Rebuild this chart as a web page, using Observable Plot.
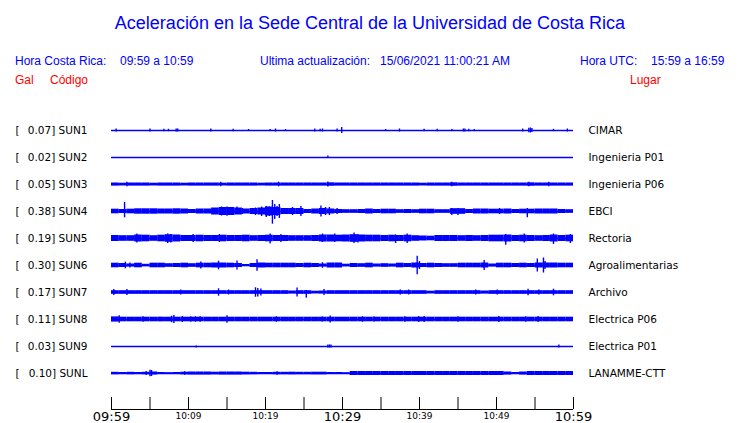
<!DOCTYPE html>
<html>
<head>
<meta charset="utf-8">
<script src="https://cdn.jsdelivr.net/npm/d3@7"></script>
<script src="https://cdn.jsdelivr.net/npm/@observablehq/plot@0.6"></script>
<style>
  html, body { margin: 0; padding: 0; background: #fff; }
  #page { position: relative; width: 740px; height: 423px; overflow: hidden; }
  #head { position: relative; width: 740px; height: 100px; font-family: "Liberation Sans", Arial, sans-serif; }
  #head span { position: absolute; white-space: pre; font-size: 12px; line-height: 12px; color: #0000ff; }
  #head .red { color: #ff0000; }
  #head .title { left: 0; width: 740px; text-align: center; font-size: 18px; line-height: 18px; top: 14px; }
  #chart svg { display: block; }
</style>
</head>
<body>
<div id="page">
  <div id="head">
    <span class="title">Aceleración en la Sede Central de la Universidad de Costa Rica</span>
    <span style="left:15px; top:55px;">Hora Costa Rica:</span>
    <span style="left:120px; top:55px;">09:59 a 10:59</span>
    <span style="left:260px; top:55px;">Ultima actualización:</span>
    <span style="left:380px; top:55px;">15/06/2021 11:00:21 AM</span>
    <span style="left:580px; top:55px;">Hora UTC:</span>
    <span style="left:651px; top:55px;">15:59 a 16:59</span>
    <span class="red" style="left:15px; top:74px;">Gal</span>
    <span class="red" style="left:50px; top:74px;">Código</span>
    <span class="red" style="left:630px; top:74px;">Lugar</span>
  </div>
  <div id="chart"></div>
</div>
<script>
// ---- data ----
const codes  = ["SUN1","SUN2","SUN3","SUN4","SUN5","SUN6","SUN7","SUN8","SUN9","SUNL"];
const gal    = ["0.07","0.02","0.05","0.38","0.19","0.30","0.17","0.11","0.03","0.10"];
const places = ["CIMAR","Ingenieria P01","Ingenieria P06","EBCI","Rectoria","Agroalimentarias","Archivo","Electrica P06","Electrica P01","LANAMME-CTT"];

// per-minute envelope half-heights (minute 0 = 09:59)
const bandSUN3 = [1.5,1.3,1.5,1.5,1.5,1.3,1.5,1.5,1.5,1.3, 1.5,1.5,1.5,1.5,1.3,1.5,1.5,1.5,1.5,1.3, 1.5,1.5,1.5,1.5,1.5,1.5,1.5,1.5,1.7,1.5, 1.5,1.5,1.5,1.5,1.5,1.5,1.5,1.5,1.5,1.5, 1.3,1.5,1.5,1.5,1.7,1.5,1.5,1.5,1.5,1.5, 1.5,1.5,1.5,1.5,1.7,1.5,1.5,1.5,1.5,1.5];
const bandSUN4 = [2.3,2.0,2.3,2.7,2.7,2.7,2.5,2.5,2.7,2.5, 2.0,2.5,2.5,3.5,4.0,4.0,3.5,2.5,3.0,3.5, 4.5,4.0,3.0,3.0,3.0,2.0,2.5,3.0,2.5,2.0, 1.8,1.8,2.0,2.5,2.0,2.3,2.3,1.8,2.0,1.8, 2.3,2.3,1.8,1.8,2.8,2.8,2.0,2.5,2.5,2.3, 2.3,2.5,2.0,2.3,2.3,2.5,2.5,2.5,2.0,1.8];
const bandSUN5 = [3.0,2.8,2.8,3.5,3.3,2.8,3.3,3.8,3.5,3.0, 3.0,3.3,3.0,3.0,3.3,3.0,3.0,3.3,2.8,3.0, 3.3,3.0,3.0,2.8,2.8,2.8,3.0,3.5,3.5,3.3, 3.5,3.8,3.5,3.3,3.3,3.0,3.3,3.0,3.3,2.8, 2.5,2.3,3.0,3.0,3.0,2.8,3.0,2.8,3.0,3.3, 3.3,3.5,3.0,3.3,3.0,2.8,3.0,3.5,3.0,3.3];
const bandSUN6 = [2.3,2.0,1.5,2.3,1.2,2.3,2.3,1.8,2.0,2.3, 1.8,2.3,2.3,2.5,2.5,2.3,2.0,1.0,2.0,2.5, 2.3,2.3,2.3,2.3,2.0,2.3,2.0,1.5,2.5,2.5, 1.3,2.0,1.8,2.3,1.5,1.8,1.5,2.3,2.0,2.5, 2.0,2.3,2.0,1.8,1.8,2.3,2.3,2.3,2.5,1.5, 2.3,2.3,2.0,2.3,2.0,2.5,2.5,2.5,2.3,2.3];
const bandSUN7 = [1.8,1.8,1.8,1.8,1.8,1.8,1.8,1.8,1.8,1.8, 1.8,1.8,1.8,1.8,1.8,1.8,1.8,1.8,1.8,1.8, 1.8,1.8,1.8,1.5,1.8,1.8,1.3,1.5,1.8,1.8, 1.8,1.8,1.8,1.8,1.8,1.8,1.8,1.8,1.8,1.8, 1.8,1.3,1.8,1.8,1.8,1.8,1.8,1.8,1.5,1.8, 1.8,1.8,1.8,1.8,1.8,1.8,1.8,1.8,1.8,1.8];
const bandSUN8 = [2.6,2.3,2.3,2.3,2.3,2.3,2.3,2.3,2.3,2.3, 2.3,2.3,2.3,2.3,2.3,2.3,2.3,2.3,2.3,2.3, 2.3,2.3,2.3,2.3,2.3,2.3,2.3,2.3,2.3,2.3, 2.3,2.3,2.3,2.3,2.3,2.3,2.3,2.3,2.3,2.3, 2.3,2.3,2.3,2.3,2.3,2.3,2.3,2.3,2.3,2.3, 2.3,2.3,2.3,2.3,2.3,2.3,2.3,2.3,2.3,2.3];
const bandSUNL = [1.2,1.0,1.2,1.0,1.2,1.5,1.0,0.8,1.0,1.3, 1.5,1.5,1.5,1.3,1.5,1.5,1.5,1.3,1.2,1.0, 1.0,1.2,1.2,1.3,1.2,1.2,1.3,1.3,1.0,1.0, 0.8,2.0,2.0,2.0,2.0,2.0,2.0,2.0,2.0,2.0, 2.0,2.0,2.0,2.0,2.0,2.0,2.0,2.0,2.0,2.0, 2.0,1.5,1.0,1.5,2.0,2.0,2.0,2.0,2.0,2.0];

// individual spikes: [minute, up, down]
const spikesSUN1 = [[0.6,1.5,1.5],[5.0,1.5,1.5],[6.8,1.2,1.2],[7.4,1.2,1.2],[8.4,1.5,1.5],[8.6,1.5,1.5],[12.9,1.5,1.5],[15.8,1.2,1.2],[17.8,1,1],[20.6,1,1],[21.3,1.5,1.5],[22.6,1,1],[26.4,1.5,1.5],[27.1,1.2,1.2],[27.4,1.5,1.5],[29.3,1.5,1.5],[29.9,3,3],[35.6,1,1],[37.4,1.5,1.5],[40.6,1.2,1.2],[42.3,1.2,1.2],[44.2,1,1],[45.7,1.5,1.5],[45.9,1.5,1.5],[46.4,1.2,1.2],[47.1,1,1],[53.4,1.5,1.5],[54.2,2.3,2.3],[54.4,2.5,2.5],[54.6,2,2],[57.4,1.2,1.2],[59.2,1.5,1.5]];
const spikesSUN2 = [[28.1,1.5,0.5]];
const spikesSUN3 = [[2.0,2.3,2.3],[14.2,2.3,2.3],[21.7,2.3,2.3],[28.1,2.5,2.5],[44.2,2.3,2.3],[54.2,2.3,2.3],[56.8,2.3,2.3]];
const spikesSUN4 = [[1.7,9,6.3],[14.3,4.5,4.5],[15.0,4.5,4.7],[16.3,4.5,3],[17.0,3,3],[18.7,3.5,4],[19.5,4.5,5],[20.1,5,6],[20.5,4.5,5],[20.9,11,12.7],[21.2,7,8],[21.5,5,5],[21.8,7,7],[23.5,4,4],[24.6,5,5],[27.2,5.5,5.5],[27.8,4,4],[28.3,4,4],[29.3,3,3],[44.2,3,4],[45.0,3,4],[50.4,3,3],[54.0,3,6.3]];
const spikesSUN5 = [[3.3,4.5,4.5],[7.3,4.5,5],[7.7,4,4.5],[10.6,4,4],[14.0,4,4],[20.6,4.5,5.5],[22.0,4,4],[27.4,4.5,4],[29.0,4.5,4],[31.5,5.5,5],[32.0,4,4.5],[36.9,3.5,5],[38.4,4.5,5],[51.2,4,6.7],[53.6,4.5,4.5],[57.4,4.5,6],[59.6,4,5]];
const spikesSUN6 = [[1.8,3.3,3.3],[2.4,2.5,2.5],[11.6,3.5,3.5],[13.9,4.3,4.3],[16.3,4.5,4.5],[18.9,5.7,5.7],[27.4,2.8,2.8],[39.7,9.3,9.3],[40.0,4,4],[48.4,5,5],[55.3,6.5,6.5],[56.1,7.5,7.5],[56.3,4,4]];
const spikesSUN7 = [[0.3,3,3],[2.0,3,3],[9.0,2.5,2.5],[13.9,3.7,3.7],[15.2,2.5,2.5],[18.7,4.7,4.7],[19.0,4,4.5],[19.4,3.5,3.5],[24.1,4.5,4.5],[25.3,2,5.7],[27.6,3,3],[37.5,2.5,2.5],[38.6,2.5,2.5],[47.3,2.5,2.5],[50.1,2.5,2.5],[54.1,3.3,3.3],[55.5,2.5,2.5],[57.4,3.3,3.3]];
const spikesSUN8 = [[1.0,3.8,3.8],[4.1,2.7,2.7],[6.3,2.3,2.3],[7.8,3.3,3.3],[8.1,4,4],[9.2,3,3],[10.3,2.7,2.7],[10.9,2.7,2.7],[11.5,2.7,2.7],[15.0,3.8,3.8],[21.4,2.7,2.7],[27.4,2.5,2.5],[28.4,3.5,3.5],[32.6,2.7,2.7],[34.1,2.5,2.5],[38.1,2.7,2.7],[39.9,3,3],[40.6,3,3],[45.0,2.7,2.7],[50.3,3,3],[53.8,2.7,2.7],[55.4,3,3]];
const spikesSUN9 = [[11.0,0.5,1.5],[28.1,1.5,1.5],[28.3,1.5,1.5],[28.5,1.5,1.5],[58.1,1.5,1.5]];
const spikesSUNL = [[4.5,2,2],[5.0,3.3,3.3],[5.2,3,3],[9.5,1.8,1.8],[21.5,1.8,1.8]];

const tickMinutes = [0,5,10,15,20,25,30,35,40,45,50,55,60];
const bigTickLabels = [[0,"09:59"],[30,"10:29"],[60,"10:59"]];
const smallTickLabels = [[10,"10:09"],[20,"10:19"],[40,"10:39"],[50,"10:49"]];

// ---- build tables ----
const ROW = 27;            // vertical spacing between traces (y units)
const AXIS = ROW * 11 + 9; // axis baseline level (y units)
const bands  = {SUN3: bandSUN3, SUN4: bandSUN4, SUN5: bandSUN5, SUN6: bandSUN6, SUN7: bandSUN7, SUN8: bandSUN8, SUNL: bandSUNL};
const spikes = {SUN1: spikesSUN1, SUN2: spikesSUN2, SUN3: spikesSUN3, SUN4: spikesSUN4, SUN5: spikesSUN5, SUN6: spikesSUN6, SUN7: spikesSUN7, SUN8: spikesSUN8, SUN9: spikesSUN9, SUNL: spikesSUNL};

const stations = codes.map((code, i) => ({code, gal: gal[i], place: places[i], c: ROW * (i + 1)}));
const bandRows = stations.flatMap(s => (bands[s.code] || []).map((a, t) => ({t, c: s.c, a})));
const spikeRows = stations.flatMap(s => (spikes[s.code] || []).map(([t, up, down]) => ({t, c: s.c, up, down})));
const bigLabels = bigTickLabels.map(([t, label]) => ({t, label}));
const smallLabels = smallTickLabels.map(([t, label]) => ({t, label}));

const BLUE = "#0000ff";

const chart = Plot.plot({
  width: 740,
  height: 323,
  marginLeft: 111,
  marginRight: 167,
  marginTop: 3,
  marginBottom: 14,
  x: {domain: [0, 60], axis: null},
  y: {domain: [0, AXIS], reverse: true, axis: null},
  style: {fontFamily: "'DejaVu Sans', sans-serif", background: "white", overflow: "visible", color: "black"},
  marks: [
    Plot.ruleY(stations, {y: "c", stroke: BLUE, strokeWidth: 1.3}),
    Plot.rect(bandRows, {x1: "t", x2: d => d.t + 1, y1: d => d.c - d.a, y2: d => d.c + d.a, fill: BLUE}),
    Plot.ruleX(spikeRows, {x: "t", y1: d => d.c - d.up, y2: d => d.c + d.down, stroke: BLUE, strokeWidth: 1.4}),
    Plot.text(stations, {frameAnchor: "left", y: "c", text: () => "[", textAnchor: "start", dx: -96, fontSize: 10.5, fill: "black"}),
    Plot.text(stations, {frameAnchor: "left", y: "c", text: d => `${d.gal}] ${d.code}`, textAnchor: "end", dx: -24, fontSize: 10.5, fill: "black"}),
    Plot.text(stations, {frameAnchor: "right", y: "c", text: "place", textAnchor: "start", dx: 15, fontSize: 10.5, fill: "black"}),
    Plot.ruleY([AXIS], {stroke: "black", strokeWidth: 1}),
    Plot.ruleX(tickMinutes, {x: d => d, y1: AXIS - 12, y2: AXIS, stroke: "black", strokeWidth: 1}),
    Plot.text(bigLabels, {x: "t", frameAnchor: "bottom", text: "label", lineAnchor: "top", dy: 2, fontSize: 13, fill: "black"}),
    Plot.text(smallLabels, {x: "t", frameAnchor: "bottom", text: "label", lineAnchor: "top", dy: 3, fontSize: 9, fill: "black"})
  ]
});
document.getElementById("chart").appendChild(chart);
</script>
</body>
</html>
